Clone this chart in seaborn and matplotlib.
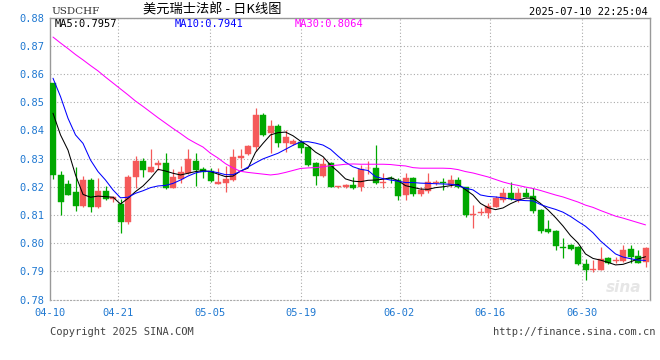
import matplotlib
matplotlib.use("Agg")
import matplotlib.pyplot as plt
import seaborn as sns
import pandas as pd
import numpy as np

# daily candles, 80 bars (04-10 .. 07-10)
opens = [0.8567, 0.8242, 0.8210, 0.8182, 0.8133, 0.8224, 0.8129, 0.8185, 0.8156, 0.8139,
         0.8074, 0.8236, 0.8292, 0.8254, 0.8279, 0.8285, 0.8197, 0.8228, 0.8248, 0.8291,
         0.8263, 0.8256, 0.8211, 0.8212, 0.8224, 0.8301, 0.8316, 0.8342, 0.8455, 0.8390,
         0.8416, 0.8354, 0.8351, 0.8360, 0.8342, 0.8285, 0.8238, 0.8285, 0.8198, 0.8198,
         0.8206, 0.8198, 0.8265, 0.8268, 0.8213, 0.8232, 0.8224, 0.8171, 0.8232, 0.8174,
         0.8185, 0.8214, 0.8216, 0.8206, 0.8224, 0.8198, 0.8101, 0.8106, 0.8106, 0.8129,
         0.8153, 0.8177, 0.8153, 0.8179, 0.8167, 0.8118, 0.8049, 0.8043, 0.7987, 0.7994,
         0.7985, 0.7928, 0.7906, 0.7905, 0.7946, 0.7938, 0.7938, 0.7978, 0.7955, 0.7932]
highs = [0.8567, 0.8256, 0.8224, 0.8271, 0.8238, 0.8230, 0.8230, 0.8203, 0.8167, 0.8156,
         0.8242, 0.8310, 0.8301, 0.8334, 0.8295, 0.8321, 0.8262, 0.8274, 0.8333, 0.8321,
         0.8271, 0.8266, 0.8266, 0.8274, 0.8333, 0.8333, 0.8348, 0.8478, 0.8461, 0.8437,
         0.8422, 0.8401, 0.8368, 0.8366, 0.8345, 0.8289, 0.8301, 0.8289, 0.8204, 0.8210,
         0.8234, 0.8277, 0.8291, 0.8348, 0.8248, 0.8238, 0.8230, 0.8250, 0.8236, 0.8200,
         0.8250, 0.8224, 0.8230, 0.8242, 0.8234, 0.8200, 0.8135, 0.8124, 0.8144, 0.8167,
         0.8195, 0.8216, 0.8195, 0.8195, 0.8195, 0.8121, 0.8082, 0.8047, 0.8017, 0.7997,
         0.7990, 0.7943, 0.7940, 0.7985, 0.7950, 0.7950, 0.7994, 0.7994, 0.7976, 0.7985]
lows = [0.8227, 0.8100, 0.8172, 0.8115, 0.8129, 0.8112, 0.8124, 0.8153, 0.8147, 0.8036,
        0.8067, 0.8195, 0.8236, 0.8254, 0.8260, 0.8191, 0.8195, 0.8212, 0.8245, 0.8203,
        0.8232, 0.8218, 0.8210, 0.8183, 0.8222, 0.8266, 0.8313, 0.8328, 0.8380, 0.8321,
        0.8342, 0.8324, 0.8348, 0.8319, 0.8274, 0.8206, 0.8234, 0.8198, 0.8197, 0.8197,
        0.8191, 0.8186, 0.8245, 0.8209, 0.8195, 0.8212, 0.8153, 0.8153, 0.8167, 0.8167,
        0.8179, 0.8206, 0.8189, 0.8200, 0.8195, 0.8092, 0.8053, 0.8100, 0.8088, 0.8127,
        0.8147, 0.8153, 0.8147, 0.8163, 0.8108, 0.8035, 0.8035, 0.7976, 0.7946, 0.7976,
        0.7924, 0.7870, 0.7899, 0.7905, 0.7926, 0.7931, 0.7934, 0.7931, 0.7929, 0.7917]
closes = [0.8242, 0.8147, 0.8172, 0.8133, 0.8224, 0.8127, 0.8185, 0.8156, 0.8165, 0.8074,
          0.8236, 0.8292, 0.8260, 0.8271, 0.8283, 0.8195, 0.8234, 0.8252, 0.8298, 0.8260,
          0.8254, 0.8222, 0.8218, 0.8228, 0.8305, 0.8309, 0.8345, 0.8455, 0.8384, 0.8416,
          0.8356, 0.8376, 0.8363, 0.8339, 0.8277, 0.8238, 0.8281, 0.8200, 0.8203, 0.8206,
          0.8195, 0.8262, 0.8268, 0.8215, 0.8216, 0.8229, 0.8167, 0.8232, 0.8174, 0.8189,
          0.8218, 0.8216, 0.8213, 0.8224, 0.8198, 0.8100, 0.8104, 0.8110, 0.8131, 0.8159,
          0.8177, 0.8156, 0.8177, 0.8165, 0.8115, 0.8044, 0.8041, 0.7990, 0.7984, 0.7979,
          0.7926, 0.7905, 0.7908, 0.7943, 0.7931, 0.7941, 0.7976, 0.7952, 0.7931, 0.7982]

# moving averages as drawn on the chart
ma5 = [0.8461, 0.8384, 0.8330, 0.8242, 0.8173, 0.8163, 0.8167, 0.8165, 0.8163, 0.8139,
       0.8159, 0.8183, 0.8203, 0.8230, 0.8262, 0.8256, 0.8248, 0.8242, 0.8248, 0.8254,
       0.8257, 0.8254, 0.8245, 0.8236, 0.8238, 0.8256, 0.8266, 0.8322, 0.8354, 0.8384,
       0.8392, 0.8394, 0.8381, 0.8362, 0.8346, 0.8323, 0.8307, 0.8277, 0.8254, 0.8228,
       0.8220, 0.8218, 0.8223, 0.8224, 0.8227, 0.8232, 0.8222, 0.8204, 0.8198, 0.8192,
       0.8191, 0.8197, 0.8200, 0.8204, 0.8209, 0.8190, 0.8171, 0.8141, 0.8126, 0.8119,
       0.8125, 0.8140, 0.8152, 0.8160, 0.8160, 0.8141, 0.8118, 0.8091, 0.8061, 0.8027,
       0.8001, 0.7962, 0.7946, 0.7940, 0.7932, 0.7923, 0.7925, 0.7934, 0.7944, 0.7952]
ma10 = [0.8585, 0.8520, 0.8443, 0.8384, 0.8354, 0.8295, 0.8254, 0.8224, 0.8189, 0.8161,
        0.8163, 0.8177, 0.8186, 0.8197, 0.8203, 0.8205, 0.8212, 0.8224, 0.8238, 0.8249,
        0.8255, 0.8255, 0.8250, 0.8243, 0.8243, 0.8255, 0.8270, 0.8285, 0.8299, 0.8309,
        0.8319, 0.8333, 0.8347, 0.8359, 0.8360, 0.8355, 0.8348, 0.8333, 0.8309, 0.8287,
        0.8271, 0.8262, 0.8258, 0.8236, 0.8229, 0.8224, 0.8220, 0.8215, 0.8215, 0.8213,
        0.8212, 0.8211, 0.8210, 0.8209, 0.8205, 0.8195, 0.8189, 0.8171, 0.8166, 0.8164,
        0.8161, 0.8157, 0.8153, 0.8151, 0.8150, 0.8137, 0.8128, 0.8120, 0.8110, 0.8095,
        0.8077, 0.8060, 0.8037, 0.8008, 0.7985, 0.7962, 0.7951, 0.7945, 0.7940, 0.7939]
ma30 = [0.8731, 0.8710, 0.8690, 0.8669, 0.8650, 0.8630, 0.8611, 0.8589, 0.8568, 0.8547,
        0.8526, 0.8504, 0.8485, 0.8465, 0.8445, 0.8426, 0.8407, 0.8389, 0.8370, 0.8355,
        0.8341, 0.8319, 0.8302, 0.8282, 0.8267, 0.8255, 0.8251, 0.8248, 0.8245, 0.8242,
        0.8245, 0.8251, 0.8258, 0.8265, 0.8267, 0.8268, 0.8271, 0.8275, 0.8277, 0.8280,
        0.8281, 0.8280, 0.8280, 0.8280, 0.8280, 0.8279, 0.8276, 0.8274, 0.8268, 0.8266,
        0.8266, 0.8266, 0.8266, 0.8265, 0.8261, 0.8254, 0.8249, 0.8242, 0.8235, 0.8226,
        0.8217, 0.8210, 0.8205, 0.8199, 0.8194, 0.8187, 0.8179, 0.8171, 0.8164, 0.8155,
        0.8146, 0.8135, 0.8127, 0.8116, 0.8106, 0.8096, 0.8089, 0.8081, 0.8073, 0.8065]

date_labels = ["04-10", "04-21", "05-05", "05-19", "06-02", "06-16", "06-30"]
date_pos = [-0.4, 8.7, 20.9, 33.0, 46.2, 58.3, 70.5]
price_ticks = [0.78, 0.79, 0.80, 0.81, 0.82, 0.83, 0.84, 0.85, 0.86, 0.87, 0.88]

df = pd.DataFrame({"open": opens, "high": highs, "low": lows, "close": closes,
                   "ma5": ma5, "ma10": ma10, "ma30": ma30})
df["i"] = np.arange(len(df))

sns.set_style("white")
plt.rcParams['font.family'] = ['DejaVu Sans Mono', 'Noto Sans CJK SC']

RED = '#f55a5a'
GREEN = '#00a800'
BLUE_TXT = '#1f78d1'
GRID = '#aaaaaa'

fig = plt.figure(figsize=(6.6, 3.6), dpi=100)
ax = fig.add_axes([50/660, (360-299.6)/360, 600/660, 282/360])

# grid
for p in price_ticks:
    ax.axhline(p, color=GRID, lw=0.8, ls=(0, (1, 2)), zorder=0)
for x in date_pos[1:]:
    ax.axvline(x, color=GRID, lw=0.8, ls=(0, (1, 2)), zorder=0)

# candles
up = df["close"] >= df["open"]
colors = np.where(up, RED, GREEN)
body_low = np.minimum(df["open"], df["close"])
body_h = np.maximum((df["close"] - df["open"]).abs(), 0.00012)
ax.vlines(df["i"], df["low"], df["high"], colors=colors, lw=0.9, zorder=2)
ax.bar(df["i"], body_h, bottom=body_low, width=0.8, color=colors,
       edgecolor=colors, linewidth=0.3, zorder=3)

# moving averages
sns.lineplot(data=df, x="i", y="ma5", color='black', lw=0.75, ax=ax, zorder=4)
sns.lineplot(data=df, x="i", y="ma10", color='#0000ff', lw=0.75, ax=ax, zorder=4)
sns.lineplot(data=df, x="i", y="ma30", color='#ff00ff', lw=0.75, ax=ax, zorder=4)

ax.set_xlim(-0.4, 79.6)
ax.set_ylim(0.78, 0.88)
ax.set_xticks(date_pos)
ax.set_xticklabels(date_labels)
ax.set_yticks(price_ticks)
ax.set_yticklabels([f"{p:.2f}" for p in price_ticks])
ax.tick_params(axis='both', length=0, labelsize=7.5, labelcolor=BLUE_TXT)
ax.tick_params(axis='y', pad=4)
ax.tick_params(axis='x', pad=6)
ax.set_xlabel("")
ax.set_ylabel("")

for side in ["left", "top", "right"]:
    ax.spines[side].set_color('#999999')
    ax.spines[side].set_linewidth(1.0)
ax.spines["bottom"].set_color(GRID)
ax.spines["bottom"].set_linestyle((0, (1, 2)))
ax.spines["bottom"].set_linewidth(0.8)

# MA legend text
ax.text(54.3/660, 1 - 24/360, "MA5:0.7957", transform=fig.transFigure, fontsize=7.5,
        color='black', va='center', ha='left')
ax.text(174.3/660, 1 - 24/360, "MA10:0.7941", transform=fig.transFigure, fontsize=7.5,
        color='#0000ff', va='center', ha='left')
ax.text(295/660, 1 - 24/360, "MA30:0.8064", transform=fig.transFigure, fontsize=7.5,
        color='#ff00ff', va='center', ha='left')

# watermark
ax.text(0.985, 0.015, "sina", transform=ax.transAxes, fontsize=11, color='#e6e6e6',
        fontweight='bold', style='italic', ha='right', va='bottom', family='DejaVu Sans', zorder=1)

# header / footer
fig.text(51/660, 1 - 12/360, "USDCHF", fontsize=7.5, color='#333333', va='center', ha='left',
         family=['DejaVu Serif'])
fig.text(212/660, 1 - 10/360, "美元瑞士法郎 - 日K线图", fontsize=9.5, color='black', va='center',
         ha='center', family=['Noto Sans CJK SC', 'DejaVu Sans'])
fig.text(648/660, 1 - 12/360, "2025-07-10 22:25:04", fontsize=7.5, color='black', va='center',
         ha='right')
fig.text(50/660, 1 - 332/360, "Copyright 2025 SINA.COM", fontsize=7.5, color='#444444',
         va='center', ha='left')
fig.text(655/660, 1 - 332/360, "http://finance.sina.com.cn", fontsize=7.5, color='#444444',
         va='center', ha='right')

fig.savefig("out.png", dpi=100)
